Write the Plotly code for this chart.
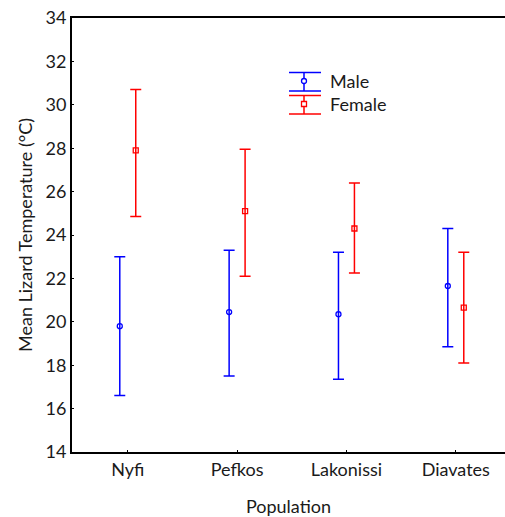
import plotly.graph_objects as go

populations = ["Nyfi", "Pefkos", "Lakonissi", "Diavates"]
male_mean = [19.8, 20.45, 20.35, 21.65]
male_upper = [23.0, 23.3, 23.2, 24.3]
male_lower = [16.6, 17.5, 17.35, 18.85]
female_mean = [27.9, 25.1, 24.3, 20.65]
female_upper = [30.7, 27.95, 26.4, 23.2]
female_lower = [24.85, 22.1, 22.25, 18.1]

offset = 0.073
xm = [i - offset for i in range(len(populations))]
xf = [i + offset for i in range(len(populations))]

FONT = "Lato, Carlito, Calibri, sans-serif"
BLUE = "#0000ff"
RED = "#ff0000"
TXT = "#1a1a1a"

fig = go.Figure()
fig.add_trace(go.Scatter(
    x=xm, y=male_mean, mode="markers", name="Male",
    marker=dict(symbol="circle-open", size=5, color=BLUE, line=dict(width=1.3, color=BLUE)),
    error_y=dict(type="data", symmetric=False,
                 array=[u - m for u, m in zip(male_upper, male_mean)],
                 arrayminus=[m - l for m, l in zip(male_mean, male_lower)],
                 color=BLUE, thickness=1.5, width=5.5),
    showlegend=False,
))
fig.add_trace(go.Scatter(
    x=xf, y=female_mean, mode="markers", name="Female",
    marker=dict(symbol="square-open", size=5, color=RED, line=dict(width=1.3, color=RED)),
    error_y=dict(type="data", symmetric=False,
                 array=[u - m for u, m in zip(female_upper, female_mean)],
                 arrayminus=[m - l for m, l in zip(female_mean, female_lower)],
                 color=RED, thickness=1.5, width=5.5),
    showlegend=False,
))

W, H = 505, 517
ml, mr, mt, mb = 72, 0, 18, 65
pw, ph = W - ml - mr, H - mt - mb

def px(x):
    return (x - ml) / pw

def py(y):
    return 1 - (y - mt) / ph

shapes = []
for (ytop, ybot, ymid, col, sym, label) in [
    (72.5, 91, 81, BLUE, "circle", "Male"),
    (95.5, 114, 104, RED, "square", "Female"),
]:
    x0, x1, xc = 289, 321, 304
    for yy in (ytop, ybot):
        shapes.append(dict(type="line", xref="paper", yref="paper",
                           x0=px(x0), x1=px(x1), y0=py(yy), y1=py(yy),
                           line=dict(color=col, width=1.5)))
    shapes.append(dict(type="line", xref="paper", yref="paper",
                       x0=px(xc), x1=px(xc), y0=py(ytop), y1=py(ybot),
                       line=dict(color=col, width=1.5)))
    shp = "circle" if sym == "circle" else "rect"
    shapes.append(dict(type=shp, xref="paper", yref="paper",
                       x0=px(xc - 2.5), x1=px(xc + 2.5), y0=py(ymid - 2.5), y1=py(ymid + 2.5),
                       line=dict(color=col, width=1.3), fillcolor="white"))
    fig.add_annotation(x=px(328), y=py(ymid), xref="paper", yref="paper",
                       text=label, showarrow=False, xanchor="left", yanchor="middle",
                       font=dict(family=FONT, size=18, color=TXT))

fig.update_layout(
    width=W, height=H,
    margin=dict(l=ml, r=mr, t=mt, b=mb, autoexpand=False),
    paper_bgcolor="white", plot_bgcolor="white",
    shapes=shapes,
    font=dict(family=FONT, size=18, color=TXT),
    xaxis=dict(
        range=[-0.51, 3.45], tickmode="array", tickvals=list(range(len(populations))),
        ticktext=populations, showgrid=False, zeroline=False,
        showline=True, linecolor="black", linewidth=2, mirror=True,
        ticks="inside", ticklen=2, tickcolor="black",
        title=dict(text="Population", standoff=22, font=dict(size=18)),
        tickfont=dict(size=18), automargin=False,
    ),
    yaxis=dict(
        range=[14, 34], dtick=2, showgrid=False, zeroline=False,
        showline=True, linecolor="black", linewidth=2,
        ticks="inside", ticklen=2, tickcolor="black",
        title=dict(text="Mean Lizard Temperature (°C)", standoff=8, font=dict(size=18)),
        tickfont=dict(size=18), automargin=False, ticklabeloverflow="allow",
    ),
)

fig.write_html(
    "out.html",
    config={"displayModeBar": False},
    post_script="document.body.style.margin='0';document.body.style.overflow='hidden';",
)
